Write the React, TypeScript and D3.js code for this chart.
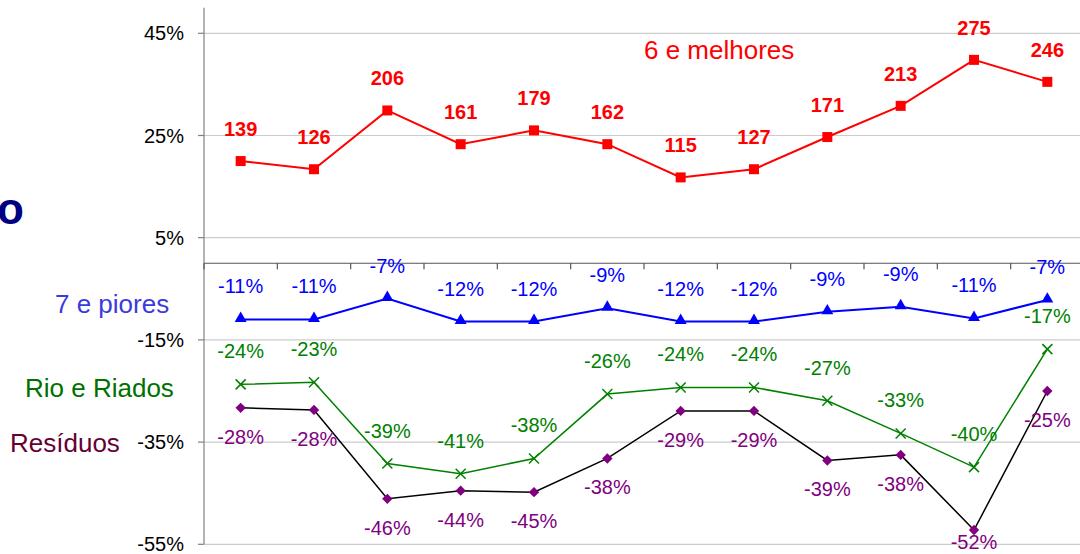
import React from 'react';
import * as d3 from 'd3';

// 12 períodos (sem rótulos no eixo)
const periods = d3.range(12);

const melhoresPct = [20.0, 18.4, 29.9, 23.3, 26.0, 23.3, 16.8, 18.4, 24.7, 30.8, 39.8, 35.5];
const melhoresN = ['139', '126', '206', '161', '179', '162', '115', '127', '171', '213', '275', '246'];

const pioresPct = [-11.0, -11.0, -6.9, -11.4, -11.4, -8.8, -11.4, -11.4, -9.5, -8.5, -10.8, -7.2];
const pioresLbl = ['-11%', '-11%', '-7%', '-12%', '-12%', '-9%', '-12%', '-12%', '-9%', '-9%', '-11%', '-7%'];

const rioPct = [-23.7, -23.3, -39.2, -41.2, -38.2, -25.6, -24.3, -24.3, -26.9, -33.3, -39.9, -16.8];
const rioLbl = ['-24%', '-23%', '-39%', '-41%', '-38%', '-26%', '-24%', '-24%', '-27%', '-33%', '-40%', '-17%'];

const residuosPct = [-28.3, -28.7, -46.1, -44.5, -44.8, -38.2, -28.9, -28.9, -38.6, -37.5, -52.2, -25.0];
const residuosLbl = ['-28%', '-28%', '-46%', '-44%', '-45%', '-38%', '-29%', '-29%', '-39%', '-38%', '-52%', '-25%'];

const yTicks = [45, 25, 5, -15, -35, -55];

const W = 1080;
const H = 554;
const FONT = '"Liberation Sans", Arial, sans-serif';

const App = () => {
  const x = d3.scaleBand<number>().domain(periods).range([204, 1084]);
  const cx = (i: number) => (x(i) as number) + x.bandwidth() / 2;
  const y = d3.scaleLinear().domain([-55, 50]).range([544.3, 7.75]);

  const line = d3.line<number>().x((_, i) => cx(i)).y(d => y(d));

  const square = d3.symbol(d3.symbolSquare, 100)();
  const triangle = d3.symbol(d3.symbolTriangle, 62)();
  const diamond = d3.symbol(d3.symbolSquare, 54)();

  // rótulos; os de baixo ficam presos à base do gráfico
  const labels = (vals: number[], txt: string[], dy: number, color: string, bold = false) =>
    vals.map((v, i) => (
      <text key={i} x={cx(i)} y={Math.min(y(v) + dy, 549)} textAnchor="middle" fill={color}
        fontSize={20} fontWeight={bold ? 'bold' : 'normal'}>{txt[i]}</text>
    ));

  return (
    <svg width={W} height={H} style={{ position: 'absolute', left: 0, top: 0, background: '#fff' }}
      fontFamily={FONT}>
      {/* grade */}
      {yTicks.map(t => (
        <line key={t} x1={204} x2={1084} y1={y(t)} y2={y(t)} stroke="#cccccc" strokeWidth={1.2} />
      ))}
      {/* eixo y */}
      <line x1={204} x2={204} y1={y(50)} y2={y(-55)} stroke="#808080" strokeWidth={1.2} />
      {yTicks.map(t => (
        <g key={t}>
          <line x1={198} x2={204} y1={y(t)} y2={y(t)} stroke="#808080" strokeWidth={1.2} />
          <text x={184} y={y(t) + 7} textAnchor="end" fontSize={20} fill="#000">{t}%</text>
        </g>
      ))}
      {/* eixo x em 0% */}
      <line x1={204} x2={1084} y1={y(0)} y2={y(0)} stroke="#555" strokeWidth={1.2} />
      {d3.range(13).map(i => (
        <line key={i} x1={204 + i * x.step()} x2={204 + i * x.step()} y1={y(0)} y2={y(0) + 6}
          stroke="#555" strokeWidth={1.2} />
      ))}

      {/* séries */}
      <path d={line(melhoresPct) || ''} fill="none" stroke="#ff0000" strokeWidth={2} />
      <path d={line(pioresPct) || ''} fill="none" stroke="#0000ff" strokeWidth={2} />
      <path d={line(rioPct) || ''} fill="none" stroke="#008000" strokeWidth={1.5} />
      <path d={line(residuosPct) || ''} fill="none" stroke="#000" strokeWidth={1.5} />

      {melhoresPct.map((v, i) => (
        <path key={i} d={square || ''} transform={`translate(${cx(i)},${y(v)})`} fill="#ff0000" />
      ))}
      {pioresPct.map((v, i) => (
        <path key={i} d={triangle || ''} transform={`translate(${cx(i)},${y(v) - 1})`} fill="#0000ff" />
      ))}
      {rioPct.map((v, i) => (
        <g key={i} stroke="#008000" strokeWidth={1.5}>
          <line x1={cx(i) - 5} x2={cx(i) + 5} y1={y(v) - 5} y2={y(v) + 5} />
          <line x1={cx(i) - 5} x2={cx(i) + 5} y1={y(v) + 5} y2={y(v) - 5} />
        </g>
      ))}
      {residuosPct.map((v, i) => (
        <path key={i} d={diamond || ''} transform={`translate(${cx(i)},${y(v)}) rotate(45)`} fill="#800080" />
      ))}

      {labels(melhoresPct, melhoresN, -25, '#ff0000', true)}
      {labels(pioresPct, pioresLbl, -26, '#0000ff')}
      {labels(rioPct, rioLbl, -26, '#008000')}
      {labels(residuosPct, residuosLbl, 36, '#800080')}

      {/* legendas */}
      <text x={644} y={59} fontSize={26} fill="#ff0000">6 e melhores</text>
      <text x={55} y={313} fontSize={26} fill="#3b3bdd">7 e piores</text>
      <text x={25} y={397} fontSize={26} fill="#007000">Rio e Riados</text>
      <text x={10} y={452} fontSize={26} fill="#660033">Resíduos</text>
      <text x={-3} y={224} fontSize={44} fontWeight="bold" fill="#000080">o</text>
    </svg>
  );
};

export default App;
